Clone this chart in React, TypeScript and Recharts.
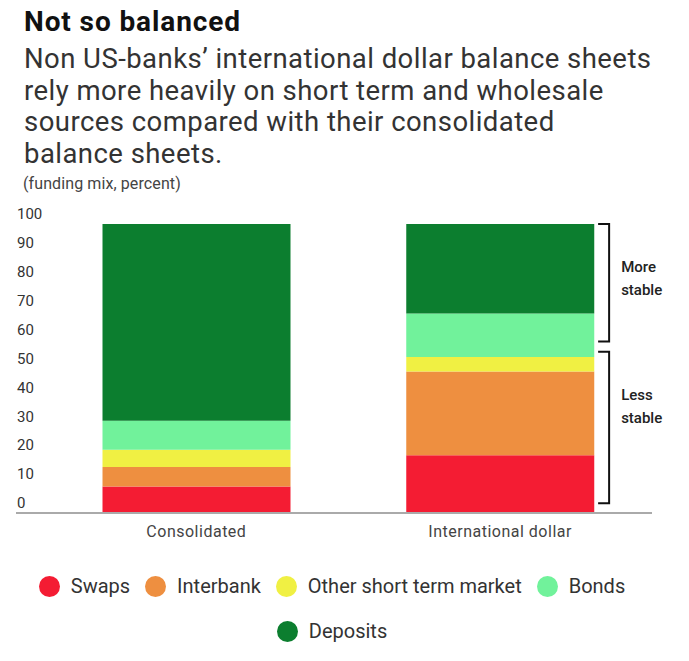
import { Bar, BarChart, Legend, ReferenceArea, XAxis, YAxis } from "recharts";

const categories = ["Consolidated", "International dollar"];
const swaps = [9.2, 20];
const interbank = [6.7, 29];
const otherShortTerm = [6, 5];
const bonds = [10, 15];
const deposits = [68.1, 31];
const yTicks = [0, 10, 20, 30, 40, 50, 60, 70, 80, 90, 100];

const seriesNames = ["Swaps", "Interbank", "Other short term market", "Bonds", "Deposits"];
const seriesColors = ["#f41c33", "#ee8f40", "#f0f043", "#71f29b", "#0c7e2f"];
const seriesValues = [swaps, interbank, otherShortTerm, bonds, deposits];

const bracketLabels = [["More", "stable"], ["Less", "stable"]];
const bracketFrom = [59.3, 3.4];
const bracketTo = [100, 55.8];

const subtitleLines = [
  "Non US-banks’ international dollar balance sheets",
  "rely more heavily on short term and wholesale",
  "sources compared with their consolidated",
  "balance sheets.",
];

const BAR_SIZE = 188;

const data = categories.map((name, i) => {
  const row: Record<string, string | number> = { name };
  seriesNames.forEach((s, j) => {
    row[s] = seriesValues[j][i];
  });
  return row;
});

const font = "Roboto, 'Noto Sans', sans-serif";

function YTick(props: any) {
  const { y, payload } = props;
  return (
    <text x={17} y={y - 10} dy="0.35em" textAnchor="start" fontSize={15} fill="#333" fontFamily={font}>
      {payload.value}
    </text>
  );
}

function XTick(props: any) {
  const { x, y, payload } = props;
  return (
    <text x={x} y={y + 10} dy="0.35em" textAnchor="middle" fontSize={16} fill="#444" fontFamily={font} letterSpacing={0.5}>
      {payload.value}
    </text>
  );
}

function bracketShape(lines: string[]) {
  return (props: any) => {
    const { x, y, width, height } = props;
    const bx = x + width / 2 + BAR_SIZE / 2 + 15;
    return (
      <g>
        <path
          d={`M${bx - 11},${y} H${bx} V${y + height} H${bx - 11}`}
          fill="none"
          stroke="#111"
          strokeWidth={2}
        />
        {lines.map((t, i) => (
          <text
            key={t}
            x={bx + 12}
            y={y + 43 + i * 23}
            dy="0.35em"
            fontSize={15}
            fontWeight={500}
            fill="#222"
            fontFamily={font}
          >
            {t}
          </text>
        ))}
      </g>
    );
  };
}

function LegendContent(props: any) {
  const items = [...(props.payload || [])].sort(
    (a: any, b: any) => seriesNames.indexOf(a.value) - seriesNames.indexOf(b.value)
  );
  return (
    <div
      style={{
        display: "flex",
        flexWrap: "wrap",
        justifyContent: "center",
        rowGap: 24,
        fontFamily: font,
      }}
    >
      {items.map((p: any) => (
        <div key={p.value} style={{ display: "flex", alignItems: "center", margin: "0 7.5px" }}>
          <span
            style={{
              width: 21,
              height: 21,
              borderRadius: "50%",
              background: p.color,
              display: "inline-block",
              marginRight: 11,
            }}
          />
          <span style={{ fontSize: 20, color: "#333", lineHeight: "21px" }}>{p.value}</span>
        </div>
      ))}
    </div>
  );
}

export default function App() {
  return (
    <div style={{ position: "absolute", left: 0, top: 0, width: 689, height: 661, background: "#fff", fontFamily: font }}>
      <div style={{ position: "absolute", left: 24, top: 5, fontSize: 28, fontWeight: 700, color: "#111", letterSpacing: 0.9 }}>
        Not so balanced
      </div>
      <div style={{ position: "absolute", left: 24, top: 43, fontSize: 27.5, lineHeight: "31.7px", color: "#333", letterSpacing: 0.45, whiteSpace: "nowrap" }}>
        {subtitleLines.map((l) => (
          <div key={l}>{l}</div>
        ))}
      </div>
      <div style={{ position: "absolute", left: 23, top: 174, fontSize: 16, color: "#444", letterSpacing: 0.1 }}>
        (funding mix, percent)
      </div>
      <div style={{ position: "absolute", left: 0, top: 0 }}>
        <BarChart
          width={689}
          height={661}
          data={data}
          margin={{ top: 224, right: 37, bottom: 118, left: 0 }}
        >
          <XAxis
            dataKey="name"
            height={30}
            padding={{ left: 28.5, right: 0 }}
            axisLine={{ stroke: "#aaa", strokeWidth: 2 }}
            tickLine={false}
            tick={<XTick />}
          />
          <YAxis
            width={16}
            domain={[0, 100]}
            ticks={yTicks}
            axisLine={false}
            tickLine={false}
            tick={<YTick />}
            interval={0}
          />
          {seriesNames.map((s, i) => (
            <Bar key={s} dataKey={s} stackId="a" fill={seriesColors[i]} barSize={BAR_SIZE} isAnimationActive={false} />
          ))}
          {bracketLabels.map((lines, i) => (
            <ReferenceArea
              key={i}
              x1={categories[1]}
              x2={categories[1]}
              y1={bracketFrom[i]}
              y2={bracketTo[i]}
              ifOverflow="visible"
              shape={bracketShape(lines)}
            />
          ))}
          <Legend
            layout="horizontal"
            verticalAlign="middle"
            align="center"
            wrapperStyle={{ top: 576, left: 0, width: 664 }}
            content={<LegendContent />}
          />
        </BarChart>
      </div>
    </div>
  );
}
